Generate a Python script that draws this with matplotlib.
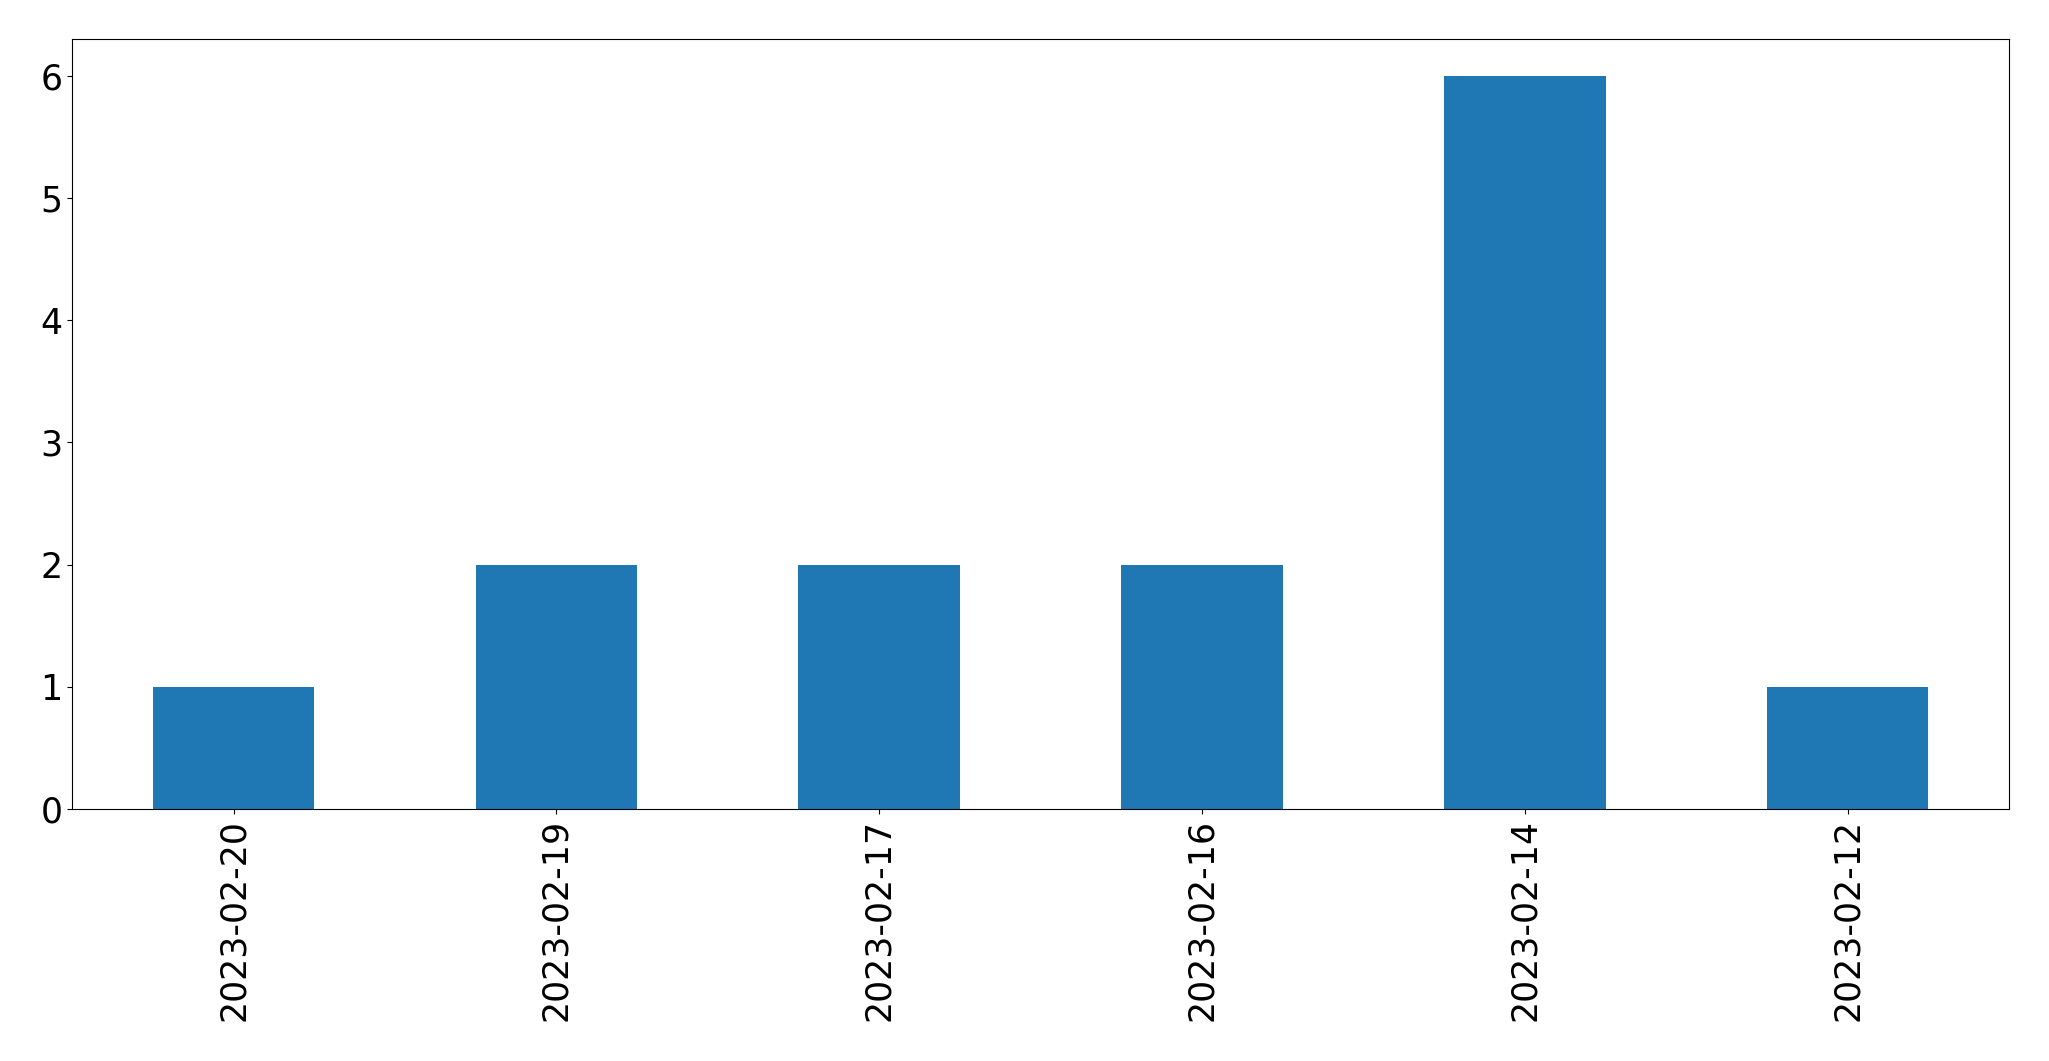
import matplotlib
matplotlib.use('Agg')
import matplotlib.pyplot as plt
import pandas as pd

dates = ['2023-02-20', '2023-02-19', '2023-02-17', '2023-02-16', '2023-02-14', '2023-02-12']
counts = [1, 2, 2, 2, 6, 1]

series = pd.Series(counts, index=dates)

fig, ax = plt.subplots(figsize=(20.49, 10.61), dpi=100)
plt.subplots_adjust(left=0.0352, right=0.9805, top=0.9632, bottom=0.2375)

series.plot(kind='bar', ax=ax, color='#1f77b4')
ax.tick_params(axis='both', labelsize=25)

fig.savefig('out.png', dpi=100)
